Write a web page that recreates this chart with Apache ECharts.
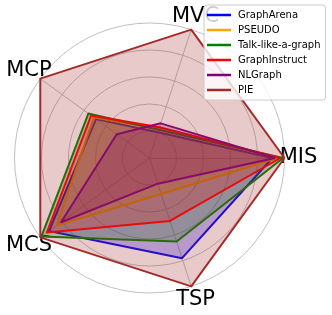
<!DOCTYPE html>
<html>
<head>
<meta charset="utf-8">
<script src="https://cdn.jsdelivr.net/npm/echarts@6/dist/echarts.min.js"></script>
<style>
html,body{margin:0;padding:0;background:#fff;}
#chart{width:332px;height:315px;}
</style>
</head>
<body>
<div id="chart"></div>
<script>
const indicators = ['MIS', 'MVC', 'MCP', 'MCS', 'TSP'];
const seriesNames = ['GraphArena', 'PSEUDO', 'Talk-like-a-graph', 'GraphInstruct', 'NLGraph', 'PIE'];
const seriesColors = ['#0000ff', '#ffa500', '#008000', '#ff0000', '#800080', '#a52a2a'];
const graphArena = [0.91, 0.20, 0.49, 0.92, 0.78];
const pseudo = [0.95, 0.23, 0.51, 0.85, 0.28];
const talkLikeAGraph = [0.99, 0.22, 0.56, 0.99, 0.65];
const graphInstruct = [0.97, 0.24, 0.535, 0.94, 0.49];
const nlGraph = [0.93, 0.27, 0.30, 0.81, 0.20];
const pie = [1.0, 1.0, 1.0, 1.0, 1.0];
const allValues = [graphArena, pseudo, talkLikeAGraph, graphInstruct, nlGraph, pie];

const chart = echarts.init(document.getElementById('chart'), null, {renderer: 'canvas'});
const option = {
  animation: false,
  backgroundColor: '#ffffff',
  legend: {
    orient: 'vertical',
    left: 204,
    top: 5,
    padding: [5, 5, 5, 3],
    itemGap: 5,
    itemWidth: 24,
    itemHeight: 2.5,
    icon: 'rect',
    backgroundColor: 'rgba(255,255,255,0.8)',
    borderColor: '#cccccc',
    borderWidth: 1,
    borderRadius: 3,
    textStyle: {fontFamily: 'DejaVu Sans', fontSize: 10, color: '#000', padding: [0, 0, 0, 2]},
    data: seriesNames
  },
  radar: {
    center: [149.5, 158],
    radius: 135,
    startAngle: 0,
    splitNumber: 5,
    shape: 'circle',
    nameGap: 14,
    indicator: indicators.map(n => ({name: n, min: 0, max: 1})),
    axisName: {
      color: '#000',
      fontFamily: 'DejaVu Sans',
      fontSize: 21,
      align: 'center',
      verticalAlign: 'middle'
    },
    axisLine: {show: true, lineStyle: {color: '#b0b0b0', width: 0.8}},
    splitLine: {show: true, lineStyle: {color: '#b0b0b0', width: 0.8}},
    splitArea: {show: false},
    axisTick: {show: false},
    axisLabel: {show: false}
  },
  series: seriesNames.map((name, i) => ({
    type: 'radar',
    name: name,
    symbol: 'none',
    itemStyle: {color: seriesColors[i]},
    lineStyle: {color: seriesColors[i], width: 2},
    areaStyle: {color: seriesColors[i], opacity: 0.25},
    data: [{value: allValues[i], name: name}]
  }))
};
chart.setOption(option);
</script>
</body>
</html>
